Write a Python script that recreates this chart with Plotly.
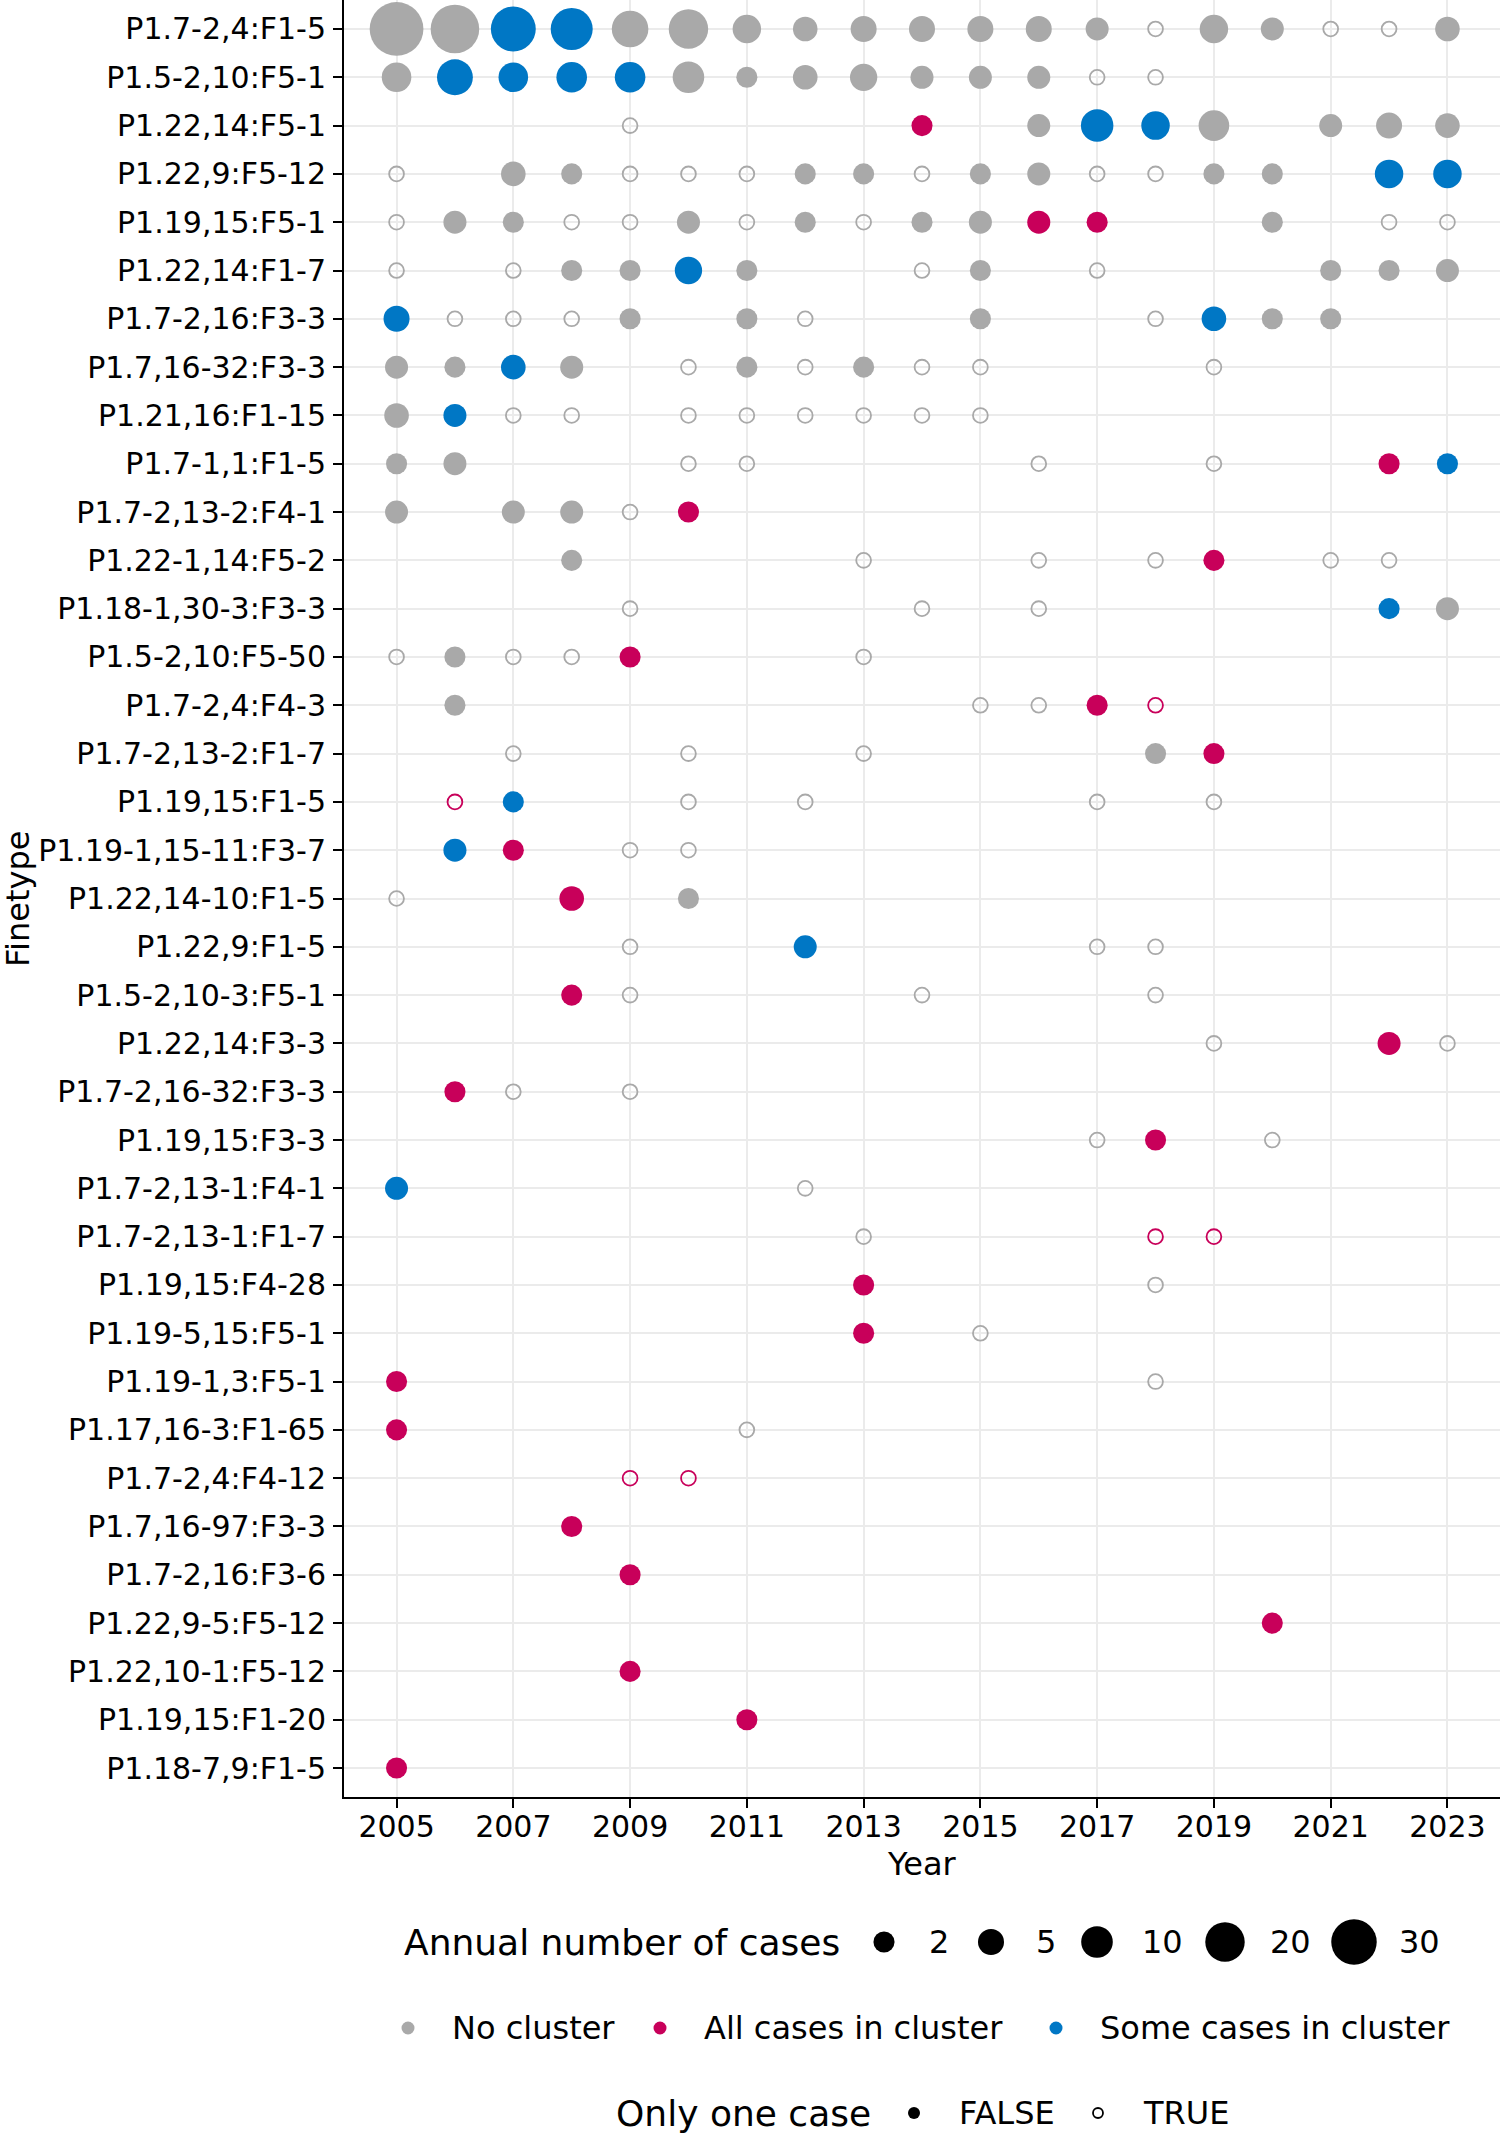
import numpy as np
import plotly.graph_objects as go

# ---------------- data ----------------
finetypes = [
    "P1.7-2,4:F1-5", "P1.5-2,10:F5-1", "P1.22,14:F5-1", "P1.22,9:F5-12", "P1.19,15:F5-1",
    "P1.22,14:F1-7", "P1.7-2,16:F3-3", "P1.7,16-32:F3-3", "P1.21,16:F1-15", "P1.7-1,1:F1-5",
    "P1.7-2,13-2:F4-1", "P1.22-1,14:F5-2", "P1.18-1,30-3:F3-3", "P1.5-2,10:F5-50", "P1.7-2,4:F4-3",
    "P1.7-2,13-2:F1-7", "P1.19,15:F1-5", "P1.19-1,15-11:F3-7", "P1.22,14-10:F1-5", "P1.22,9:F1-5",
    "P1.5-2,10-3:F5-1", "P1.22,14:F3-3", "P1.7-2,16-32:F3-3", "P1.19,15:F3-3", "P1.7-2,13-1:F4-1",
    "P1.7-2,13-1:F1-7", "P1.19,15:F4-28", "P1.19-5,15:F5-1", "P1.19-1,3:F5-1", "P1.17,16-3:F1-65",
    "P1.7-2,4:F4-12", "P1.7,16-97:F3-3", "P1.7-2,16:F3-6", "P1.22,9-5:F5-12", "P1.22,10-1:F5-12",
    "P1.19,15:F1-20", "P1.18-7,9:F1-5",
]

years_by_row = [
    [2005, 2006, 2007, 2008, 2009, 2010, 2011, 2012, 2013, 2014, 2015, 2016, 2017, 2018, 2019, 2020, 2021, 2022, 2023],
    [2005, 2006, 2007, 2008, 2009, 2010, 2011, 2012, 2013, 2014, 2015, 2016, 2017, 2018],
    [2009, 2014, 2016, 2017, 2018, 2019, 2021, 2022, 2023],
    [2005, 2007, 2008, 2009, 2010, 2011, 2012, 2013, 2014, 2015, 2016, 2017, 2018, 2019, 2020, 2022, 2023],
    [2005, 2006, 2007, 2008, 2009, 2010, 2011, 2012, 2013, 2014, 2015, 2016, 2017, 2020, 2022, 2023],
    [2005, 2007, 2008, 2009, 2010, 2011, 2014, 2015, 2017, 2021, 2022, 2023],
    [2005, 2006, 2007, 2008, 2009, 2011, 2012, 2015, 2018, 2019, 2020, 2021],
    [2005, 2006, 2007, 2008, 2010, 2011, 2012, 2013, 2014, 2015, 2019],
    [2005, 2006, 2007, 2008, 2010, 2011, 2012, 2013, 2014, 2015],
    [2005, 2006, 2010, 2011, 2016, 2019, 2022, 2023],
    [2005, 2007, 2008, 2009, 2010],
    [2008, 2013, 2016, 2018, 2019, 2021, 2022],
    [2009, 2014, 2016, 2022, 2023],
    [2005, 2006, 2007, 2008, 2009, 2013],
    [2006, 2015, 2016, 2017, 2018],
    [2007, 2010, 2013, 2018, 2019],
    [2006, 2007, 2010, 2012, 2017, 2019],
    [2006, 2007, 2009, 2010],
    [2005, 2008, 2010],
    [2009, 2012, 2017, 2018],
    [2008, 2009, 2014, 2018],
    [2019, 2022, 2023],
    [2006, 2007, 2009],
    [2017, 2018, 2020],
    [2005, 2012],
    [2013, 2018, 2019],
    [2013, 2018],
    [2013, 2015],
    [2005, 2018],
    [2005, 2011],
    [2009, 2010],
    [2008],
    [2009],
    [2020],
    [2009],
    [2011],
    [2005],
]

cases_by_row = [
    [47, 36, 29, 24, 16, 20, 7, 4, 5, 5, 5, 5, 3, 1, 7, 3, 1, 1, 4],
    [8, 15, 8, 9, 9, 10, 2, 4, 6, 3, 3, 3, 1, 1],
    [1, 2, 3, 11, 7, 9, 3, 5, 4],
    [1, 4, 2, 1, 1, 1, 2, 2, 1, 2, 3, 1, 1, 2, 2, 7, 7],
    [1, 3, 2, 1, 1, 3, 1, 2, 1, 2, 3, 3, 2, 2, 1, 1],
    [1, 1, 2, 2, 6, 2, 1, 2, 1, 2, 2, 3],
    [5, 1, 1, 1, 2, 2, 1, 2, 1, 4, 2, 2],
    [3, 2, 4, 3, 1, 2, 1, 2, 1, 1, 1],
    [4, 3, 1, 1, 1, 1, 1, 1, 1, 1],
    [2, 3, 1, 1, 1, 1, 2, 2],
    [3, 3, 3, 1, 2],
    [2, 1, 1, 1, 2, 1, 1],
    [1, 1, 1, 2, 3],
    [1, 2, 1, 1, 2, 1],
    [2, 1, 1, 2, 1],
    [1, 1, 1, 2, 2],
    [1, 2, 1, 1, 1, 1],
    [3, 2, 1, 1],
    [1, 4, 2],
    [1, 3, 1, 1],
    [2, 1, 1, 1],
    [1, 3, 1],
    [2, 1, 1],
    [1, 2, 1],
    [3, 1],
    [1, 1, 1],
    [2, 1],
    [2, 1],
    [2, 1],
    [2, 1],
    [1, 1],
    [2],
    [2],
    [2],
    [2],
    [2],
    [2],
]

# N = No cluster, A = All cases in cluster, S = Some cases in cluster
cluster_by_row = [
    "NNSSNNNNNNNNNNNNNNN", "NSSSSNNNNNNNNN", "NANSSNNNN", "NNNNNNNNNNNNNNNSS",
    "NNNNNNNNNNNAANNN", "NNNNSNNNNNNN", "SNNNNNNNNSNN", "NNSNNNNNNNN", "NSNNNNNNNN",
    "NNNNNNAS", "NNNNA", "NNNNANN", "NNNSN", "NNNNAN", "NNNAA", "NNNNA", "ASNNNN",
    "SANN", "NAN", "NSNN", "ANNN", "NAN", "ANN", "NAN", "SN", "NAA", "AN", "AN",
    "AN", "AN", "AA", "A", "A", "A", "A", "A", "A",
]

year_ticks = list(range(2005, 2024, 2))
size_breaks = [2, 5, 10, 20, 30]
cluster_codes = ["N", "A", "S"]
cluster_labels = ["No cluster", "All cases in cluster", "Some cases in cluster"]
one_case_labels = ["FALSE", "TRUE"]

# ---------------- styles ----------------
W, H = 1500, 2134
PL, PR, PT, PB = 344, 1500, 0, 1797
FONT = "DejaVu Sans"
colors = {"N": "#A9A9A9", "A": "#C8005A", "S": "#0077C5"}
GRID = "#EBEBEB"
TICK_FONT = 30


def size_fn(n):
    return 12.6 + 6.0 * np.sqrt(np.asarray(n, dtype=float))


# flatten
pts_y, pts_x, pts_n, pts_c = [], [], [], []
for ft, ys, ns, cs in zip(finetypes, years_by_row, cases_by_row, cluster_by_row):
    for yr, n, c in zip(ys, ns, cs):
        pts_y.append(ft)
        pts_x.append(yr)
        pts_n.append(n)
        pts_c.append(c)
pts_x = np.array(pts_x)
pts_n = np.array(pts_n)
pts_y = np.array(pts_y)
pts_c = np.array(pts_c)

fig = go.Figure()

for code in cluster_codes:
    for one in (False, True):
        m = (pts_c == code) & ((pts_n == 1) == one)
        if not m.any():
            continue
        sz = size_fn(pts_n[m])
        if one:
            marker = dict(symbol="circle-open", size=sz - 3.8, color=colors[code], opacity=1,
                          line=dict(width=1.8, color=colors[code]))
        else:
            marker = dict(symbol="circle", size=sz, color=colors[code], opacity=1, line=dict(width=0))
        fig.add_trace(go.Scatter(x=pts_x[m], y=pts_y[m], mode="markers", marker=marker,
                                 showlegend=False, xaxis="x", yaxis="y", cliponaxis=False))

ydom0 = 1 - PB / H

fig.update_layout(
    width=W, height=H,
    margin=dict(l=0, r=0, t=0, b=0, pad=0),
    paper_bgcolor="white", plot_bgcolor="white",
    showlegend=False,
    font=dict(family=FONT, color="black"),
    xaxis=dict(domain=[PL / W, PR / W], anchor="y", range=[2004.1, 2023.9],
               tickmode="array", tickvals=year_ticks, ticktext=[str(v) for v in year_ticks],
               showgrid=True, gridcolor=GRID, gridwidth=2, zeroline=False,
               showline=True, linecolor="black", linewidth=2,
               ticks="outside", ticklen=9, tickwidth=2, tickcolor="black",
               ticklabelstandoff=-7,
               tickfont=dict(size=TICK_FONT, family=FONT, color="black"), automargin=False),
    yaxis=dict(domain=[ydom0, 1], anchor="x", type="category",
               categoryorder="array", categoryarray=finetypes[::-1],
               range=[-0.6, len(finetypes) - 0.4],
               showgrid=True, gridcolor=GRID, gridwidth=2, zeroline=False,
               showline=True, linecolor="black", linewidth=2,
               ticks="outside", ticklen=9, tickwidth=2, tickcolor="black",
               ticklabelstandoff=1,
               tickfont=dict(size=TICK_FONT, family=FONT, color="black"), automargin=False),
    xaxis2=dict(domain=[0, 1], anchor="y2", range=[0, W], visible=False, fixedrange=True),
    yaxis2=dict(domain=[0, ydom0], anchor="x2", range=[H, PB], visible=False, fixedrange=True),
)

annotations = []
# axis titles
annotations.append(dict(text="Year", x=(PL + PR) / 2, y=1864, xref="x2", yref="y2",
                        showarrow=False, font=dict(size=32, family=FONT, color="black"),
                        xanchor="center", yanchor="middle"))
annotations.append(dict(text="Finetype", x=18 / W, y=1 - 899 / H, xref="paper", yref="paper",
                        showarrow=False, textangle=-90, font=dict(size=32, family=FONT, color="black"),
                        xanchor="center", yanchor="middle"))

# ---------------- legends (drawn in the bottom band) ----------------
LEG_TITLE = 36
LEG_TEXT = 32
# size legend
row1_y = 1942
size_key_x = [884, 991, 1097, 1225, 1354]
annotations.append(dict(text="Annual number of cases", x=842, y=row1_y, xref="x2", yref="y2",
                        showarrow=False, xanchor="right", yanchor="middle",
                        font=dict(size=LEG_TITLE, family=FONT, color="black")))
fig.add_trace(go.Scatter(x=size_key_x, y=[row1_y] * len(size_key_x), mode="markers",
                         marker=dict(symbol="circle", size=size_fn(size_breaks), color="black",
                                     opacity=1, line=dict(width=0)),
                         xaxis="x2", yaxis="y2", showlegend=False, hoverinfo="skip", cliponaxis=False))
for kx, b in zip(size_key_x, size_breaks):
    annotations.append(dict(text=str(b), x=kx + 43, y=row1_y, xref="x2", yref="y2",
                            showarrow=False, xanchor="left", yanchor="middle",
                            font=dict(size=LEG_TEXT, family=FONT, color="black")))

# colour legend
row2_y = 2028
col_key_x = [408, 660, 1056]
fig.add_trace(go.Scatter(x=col_key_x, y=[row2_y] * 3, mode="markers",
                         marker=dict(symbol="circle", size=13, opacity=1,
                                     color=[colors[c] for c in cluster_codes], line=dict(width=0)),
                         xaxis="x2", yaxis="y2", showlegend=False, hoverinfo="skip", cliponaxis=False))
for kx, lab in zip(col_key_x, cluster_labels):
    annotations.append(dict(text=lab, x=kx + 42, y=row2_y, xref="x2", yref="y2",
                            showarrow=False, xanchor="left", yanchor="middle",
                            font=dict(size=LEG_TEXT, family=FONT, color="black")))

# one-case legend
row3_y = 2113
one_key_x = [914, 1098]
annotations.append(dict(text="Only one case", x=614, y=row3_y, xref="x2", yref="y2",
                        showarrow=False, xanchor="left", yanchor="middle",
                        font=dict(size=LEG_TITLE, family=FONT, color="black")))
fig.add_trace(go.Scatter(x=one_key_x[:1], y=[row3_y], mode="markers",
                         marker=dict(symbol="circle", size=12, color="black", opacity=1, line=dict(width=0)),
                         xaxis="x2", yaxis="y2", showlegend=False, hoverinfo="skip", cliponaxis=False))
fig.add_trace(go.Scatter(x=one_key_x[1:], y=[row3_y], mode="markers",
                         marker=dict(symbol="circle-open", size=10, color="black", opacity=1,
                                     line=dict(width=1.8, color="black")),
                         xaxis="x2", yaxis="y2", showlegend=False, hoverinfo="skip", cliponaxis=False))
for kx, lab in zip(one_key_x, one_case_labels):
    annotations.append(dict(text=lab, x=kx + 43, y=row3_y, xref="x2", yref="y2",
                            showarrow=False, xanchor="left", yanchor="middle",
                            font=dict(size=LEG_TEXT, family=FONT, color="black")))

fig.update_layout(annotations=annotations)
fig.write_html("out.html")
